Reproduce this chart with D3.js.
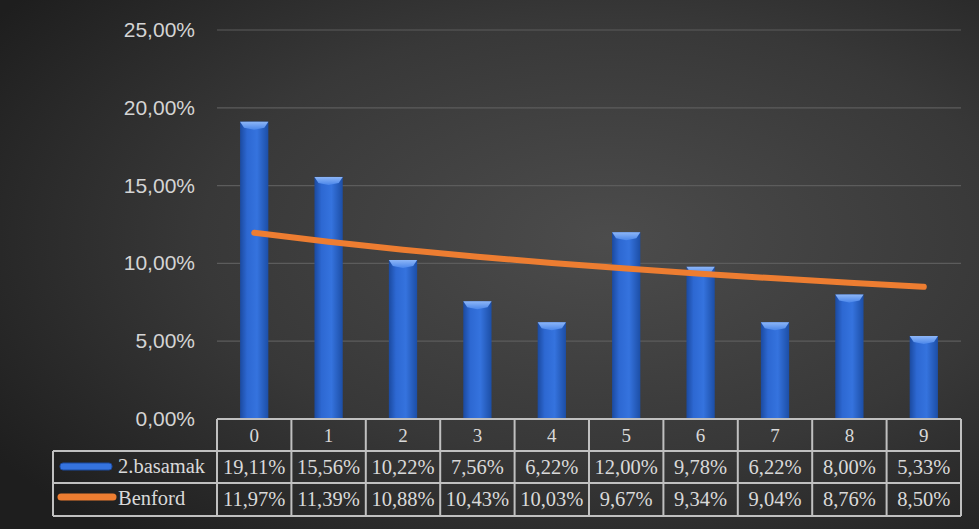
<!DOCTYPE html>
<html><head><meta charset="utf-8">
<script src="https://cdn.jsdelivr.net/npm/d3@7"></script>
<style>html,body{margin:0;padding:0;background:#2a2a2a;}svg{display:block;}</style>
</head><body>
<script>
const categories = ["0","1","2","3","4","5","6","7","8","9"];
const basamak = [19.11,15.56,10.22,7.56,6.22,12.00,9.78,6.22,8.00,5.33];
const benford = [11.97,11.39,10.88,10.43,10.03,9.67,9.34,9.04,8.76,8.50];
const yTicks = [0,5,10,15,20,25];
const seriesNames = ["2.basamak","Benford"];

const W=979,H=529;
const svg=d3.select("body").append("svg").attr("width",W).attr("height",H);
const defs=svg.append("defs");
const bg=defs.append("radialGradient").attr("id","bg").attr("cx","0.62").attr("cy","0.45").attr("r","0.75");
bg.append("stop").attr("offset","0").attr("stop-color","#4c4c4c");
bg.append("stop").attr("offset","0.55").attr("stop-color","#383838");
bg.append("stop").attr("offset","1").attr("stop-color","#1e1e1e");
svg.append("rect").attr("width",W).attr("height",H).attr("fill","url(#bg)");

const bar=defs.append("linearGradient").attr("id","bar").attr("x1","0").attr("x2","1");
bar.append("stop").attr("offset","0").attr("stop-color","#1b4aa0");
bar.append("stop").attr("offset","0.25").attr("stop-color","#2d68d2");
bar.append("stop").attr("offset","0.6").attr("stop-color","#3573de");
bar.append("stop").attr("offset","1").attr("stop-color","#1c4ea6");
const cap=defs.append("linearGradient").attr("id","cap").attr("x1","0").attr("x2","0").attr("y1","0").attr("y2","1");
cap.append("stop").attr("offset","0").attr("stop-color","#8db6f7");
cap.append("stop").attr("offset","1").attr("stop-color","#4a86ea");

const x0=217,x1=961,yTop=30,yBot=419;
const x=d3.scaleBand().domain(categories).range([x0,x1]).paddingInner(0.62).paddingOuter(0.31);
const y=d3.scaleLinear().domain([0,25]).range([yBot,yTop]);

// gridlines
svg.append("g").selectAll("line").data(yTicks).join("line")
 .attr("x1",x0).attr("x2",x1).attr("y1",d=>y(d)).attr("y2",d=>y(d))
 .attr("stroke","#5c5c5c").attr("stroke-width",1.2);

// y axis labels
const fmt=d=>d.toFixed(2).replace(".",",")+"%";
svg.append("g").selectAll("text").data(yTicks).join("text")
 .attr("x",195).attr("y",d=>y(d)+7).attr("text-anchor","end")
 .attr("font-family","Liberation Sans, Arial, sans-serif").attr("font-size",21)
 .attr("fill","#d4d4d4").text(fmt);

// bars
const bw=x.bandwidth();
const bars=svg.append("g");
bars.selectAll("rect").data(basamak).join("rect")
 .attr("x",(d,i)=>x(categories[i])).attr("y",d=>y(d)).attr("width",bw).attr("height",d=>yBot-y(d))
 .attr("fill","url(#bar)");
bars.selectAll("path").data(basamak).join("path")
 .attr("d",(d,i)=>{const bx=x(categories[i]),by=y(d);
   return `M${bx},${by}L${bx+bw},${by}L${bx+bw-4},${by+6}L${bx+bw/2},${by+8}L${bx+4},${by+6}Z`;})
 .attr("fill","url(#cap)");

// line
const line=d3.line().x((d,i)=>x(categories[i])+bw/2).y(d=>y(d)).curve(d3.curveMonotoneX);
svg.append("path").datum(benford).attr("d",line).attr("fill","none")
 .attr("stroke","#ED7D31").attr("stroke-width",6).attr("stroke-linecap","round");

// table
const step=x.step();
const colX=i=>x0+i*step;
const rTop=419;
const rowY=[rTop,rTop+32,rTop+64,rTop+97];
const tbl=svg.append("g");
const bc="#c0c0c0";
const tx="Liberation Serif, Times New Roman, serif";
d3.range(11).forEach(i=>{
  tbl.append("line").attr("x1",colX(i)).attr("x2",colX(i)).attr("y1",rowY[0]).attr("y2",rowY[3]).attr("stroke",bc).attr("stroke-width",2);
});
tbl.append("line").attr("x1",53).attr("x2",53).attr("y1",rowY[1]).attr("y2",rowY[3]).attr("stroke",bc).attr("stroke-width",2);
tbl.append("line").attr("x1",x0).attr("x2",x1).attr("y1",rowY[0]).attr("y2",rowY[0]).attr("stroke",bc).attr("stroke-width",2);
[1,2,3].forEach(r=>tbl.append("line").attr("x1",53).attr("x2",x1).attr("y1",rowY[r]).attr("y2",rowY[r]).attr("stroke",bc).attr("stroke-width",2));

tbl.selectAll("text.h").data(categories).join("text").attr("class","h")
 .attr("x",(d,i)=>colX(i)+step/2).attr("y",rowY[0]+23).attr("text-anchor","middle")
 .attr("font-family",tx).attr("font-size",19).attr("fill","#d9d9d9").text(d=>d);
const pf=v=>v.toFixed(2).replace(".",",")+"%";
[basamak,benford].forEach((arr,r)=>{
  tbl.append("g").selectAll("text").data(arr).join("text")
   .attr("x",(d,i)=>colX(i)+step/2).attr("y",rowY[r+1]+23).attr("text-anchor","middle")
   .attr("font-family",tx).attr("font-size",20.5).attr("fill","#d9d9d9").text(pf);
  tbl.append("text").attr("x",118).attr("y",rowY[r+1]+22)
   .attr("font-family",tx).attr("font-size",20.5).attr("fill","#d9d9d9").text(seriesNames[r]);
});
// legend keys
tbl.append("rect").attr("x",60).attr("y",rowY[1]+12).attr("width",52).attr("height",7).attr("rx",3)
 .attr("fill","#3573de").attr("stroke","#1b4aa0").attr("stroke-width",1);
tbl.append("line").attr("x1",61).attr("x2",113).attr("y1",rowY[2]+14).attr("y2",rowY[2]+14)
 .attr("stroke","#ED7D31").attr("stroke-width",7).attr("stroke-linecap","round");
</script>
</body></html>
